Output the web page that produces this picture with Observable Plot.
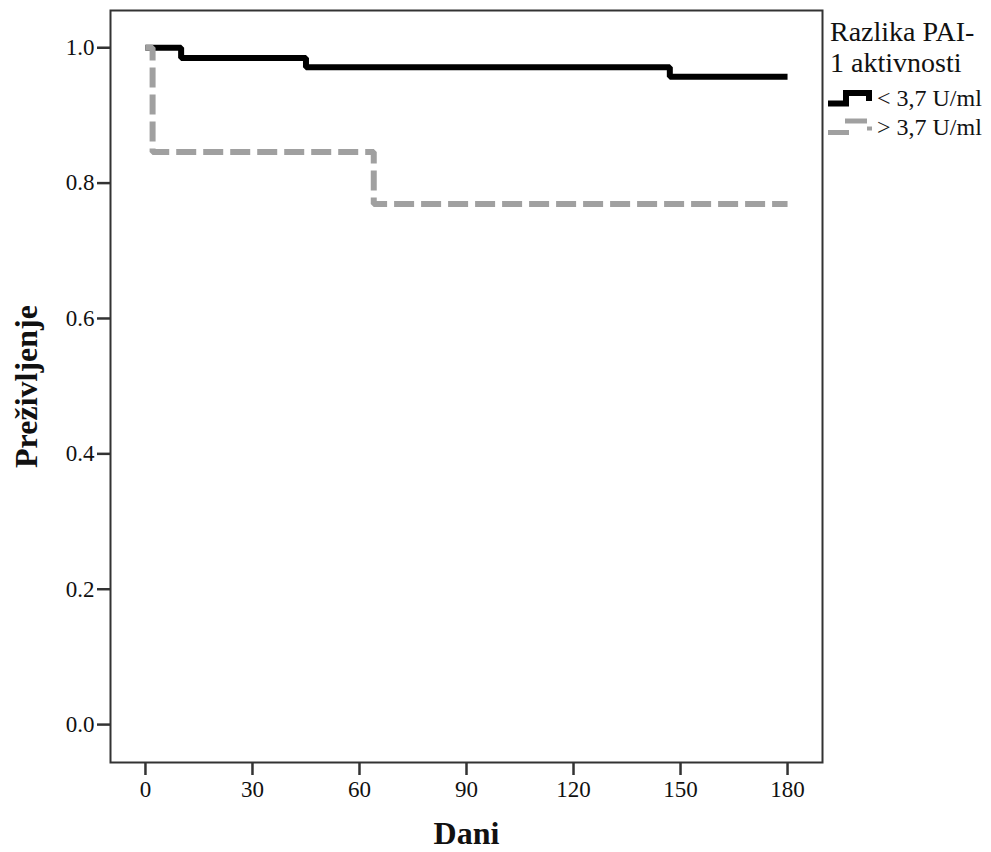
<!DOCTYPE html>
<html>
<head>
<meta charset="utf-8">
<script src="https://cdn.jsdelivr.net/npm/d3@7"></script>
<script src="https://cdn.jsdelivr.net/npm/@observablehq/plot@0.6"></script>
<style>
  html, body { margin: 0; padding: 0; background: #fff; }
  #wrap { position: relative; width: 991px; height: 852px; }
  #legend { position: absolute; left: 0; top: 0; pointer-events: none; font-family: "Liberation Serif", "Times New Roman", serif; }
  #legend text { font-family: "Liberation Serif", "Times New Roman", serif; }
  #chart svg { font-family: "Liberation Serif", "Times New Roman", serif; }
</style>
</head>
<body>
<div id="wrap">
  <div id="chart"></div>
  <svg id="legend" width="991" height="852"></svg>
</div>
<script>
// Groups (legend labels)
const legendTitle = ["Razlika PAI-", "1 aktivnosti"];
const groups = ["< 3,7 U/ml", "> 3,7 U/ml"];
// Kaplan-Meier steps, group "< 3,7 U/ml"
const lowDays = [0, 10, 45, 147, 180];
const lowSurv = [1.0, 0.985, 0.971, 0.957, 0.957];
// Kaplan-Meier steps, group "> 3,7 U/ml"
const highDays = [0, 2, 64, 180];
const highSurv = [1.0, 0.846, 0.769, 0.769];
// Axis ticks
const xTicks = [0, 30, 60, 90, 120, 150, 180];
const yTicks = [0.0, 0.2, 0.4, 0.6, 0.8, 1.0];
const xTitle = "Dani";
const yTitle = "Preživljenje";

const low = lowDays.map((d, i) => ({day: d, surv: lowSurv[i], group: groups[0]}));
const high = highDays.map((d, i) => ({day: d, surv: highSurv[i], group: groups[1]}));

const font = "'Liberation Serif', 'Times New Roman', serif";

const chart = Plot.plot({
  width: 991,
  height: 852,
  marginLeft: 110,
  marginRight: 169,
  marginTop: 10,
  marginBottom: 90,
  style: {fontFamily: font, background: "#fff", color: "#111"},
  x: {domain: [-9.8, 189.8], ticks: xTicks},
  y: {domain: [-0.056, 1.055], ticks: yTicks},
  marks: [
    Plot.frame({stroke: "#333", strokeWidth: 2}),
    Plot.axisX(xTicks, {tickSize: 13, tickPadding: 5, fontSize: 23, label: null, stroke: "#333", strokeWidth: 2.5, fill: "#111"}),
    Plot.axisY(yTicks, {tickSize: 13, tickPadding: 3, fontSize: 23, label: null, tickFormat: d3.format(".1f"), stroke: "#333", strokeWidth: 2.5, fill: "#111"}),
    Plot.line(low, {x: "day", y: "surv", curve: "step-after", stroke: "#000", strokeWidth: 6, strokeLinecap: "butt", strokeLinejoin: "miter"}),
    Plot.line(high, {x: "day", y: "surv", curve: "step-after", stroke: "#a0a0a0", strokeWidth: 6, strokeDasharray: "20,7", strokeLinecap: "butt", strokeLinejoin: "miter"}),
    Plot.text([xTitle], {frameAnchor: "bottom", dy: 71, lineAnchor: "middle", fontSize: 32, fontWeight: "bold", fill: "#111"}),
    Plot.text([yTitle], {frameAnchor: "left", textAnchor: "middle", lineAnchor: "middle", rotate: -90, dx: -84, fontSize: 32, fontWeight: "bold", fill: "#111"})
  ]
});
document.getElementById("chart").appendChild(chart);
// enforce tick label size
d3.select(chart).selectAll('g[aria-label$="tick label"]').attr("font-size", 23).style("font-size", "23px");
d3.select(chart).selectAll('g[aria-label$="tick label"] text').attr("font-size", 23).style("font-size", "23px");

// Legend (right of the plot frame)
const lg = d3.select("#legend");
lg.selectAll("text.title").data(legendTitle).join("text")
  .attr("class", "title")
  .attr("x", 830).attr("y", (d, i) => 41 + i * 31)
  .style("font-family", font).attr("font-size", 28).attr("fill", "#111")
  .text(d => d);
lg.selectAll("text.item").data(groups).join("text")
  .attr("class", "item")
  .attr("x", 877).attr("y", (d, i) => 106 + i * 29)
  .style("font-family", font).attr("font-size", 24).attr("fill", "#111")
  .text(d => d);
lg.append("path")
  .attr("d", "M828,103.5H846V93H869V101")
  .attr("fill", "none").attr("stroke", "#000").attr("stroke-width", 6);
lg.append("path").attr("d", "M828,132.5H849").attr("stroke", "#a0a0a0").attr("stroke-width", 5);
lg.append("path").attr("d", "M845,121H867").attr("stroke", "#a0a0a0").attr("stroke-width", 5);
lg.append("path").attr("d", "M867,128.5H872").attr("stroke", "#a0a0a0").attr("stroke-width", 4);
</script>
</body>
</html>
